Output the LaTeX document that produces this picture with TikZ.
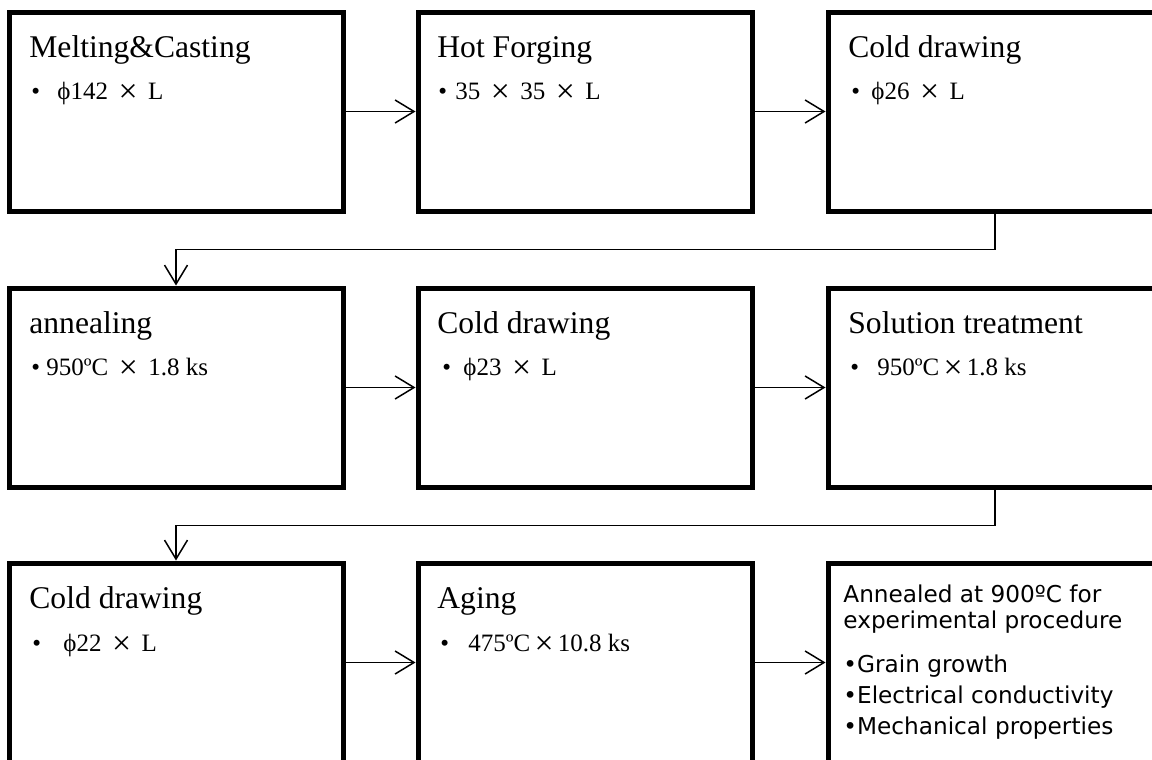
\documentclass[tikz,border=0pt]{standalone}
\usepackage{fontspec}
\setmainfont{Liberation Serif}
\newfontfamily\notefont{DejaVu Sans}
\usetikzlibrary{arrows.meta}
\newcommand{\bytimes}{\makebox[1.1em]{\raisebox{-0.15em}{\scalebox{1.35}{×}}}}

\begin{document}
\begin{tikzpicture}[x=0.5pt, y=-0.5pt,
		stepbox/.style={draw, line width=2.5pt, minimum width=167pt, minimum height=99.5pt, inner sep=0pt},
		headtext/.style={anchor=base west, inner sep=0pt, font=\fontsize{15.8}{18}\selectfont},
		subtext/.style={anchor=base west, inner sep=0pt, font=\fontsize{12.5}{14}\selectfont},
		notetext/.style={anchor=base west, inner sep=0pt, font=\notefont\fontsize{11.6}{14}\selectfont},
		flow/.style={line width=0.75pt, -{Straight Barb[length=9.5pt, width=11.5pt]}}]
			%%%%% START %%%%%
			
			\useasboundingbox (0, 0) rectangle (1152, 760);
			\fill[white] (0, 0) rectangle (1152, 760);
			
			% first row
			\node[stepbox] (melt) at (176, 111.5) {};
			\node[stepbox] (forge) at (585, 111.5) {};
			\node[stepbox] (draw1) at (995, 111.5) {};
			
			\node[headtext] (melthead) at (29, 57) {Melting\&Casting};
			\node[subtext] (meltsub) at (31, 99) {\makebox[13pt][l]{•}ϕ142 \bytimes{} L};
			\node[headtext] (forgehead) at (437, 57) {Hot Forging};
			\node[subtext] (forgesub) at (438, 99) {\makebox[8.5pt][l]{•}35 \bytimes{} 35 \bytimes{} L};
			\node[headtext] (draw1head) at (848, 57) {Cold drawing};
			\node[subtext] (draw1sub) at (851, 99) {\makebox[10pt][l]{•}ϕ26 \bytimes{} L};
			
			% second row
			\node[stepbox] (anneal) at (176, 387.5) {};
			\node[stepbox] (draw2) at (585, 387.5) {};
			\node[stepbox] (solution) at (995, 387.5) {};
			
			\node[headtext] (annealhead) at (29, 333) {annealing};
			\node[subtext] (annealsub) at (31, 375) {\makebox[7.5pt][l]{•}950ºC \bytimes{} 1.8 ks};
			\node[headtext] (draw2head) at (437, 333) {Cold drawing};
			\node[subtext] (draw2sub) at (442, 375) {\makebox[10.5pt][l]{•}ϕ23 \bytimes{} L};
			\node[headtext] (solutionhead) at (848, 333) {Solution treatment};
			\node[subtext] (solutionsub) at (850, 375) {\makebox[13.5pt][l]{•}950ºC\bytimes{}1.8 ks};
			
			% third row
			\node[stepbox] (draw3) at (176, 662.5) {};
			\node[stepbox] (aging) at (585, 662.5) {};
			\node[stepbox] (final) at (995, 662.5) {};
			
			\node[headtext] (draw3head) at (29, 608) {Cold drawing};
			\node[subtext] (draw3sub) at (32, 651) {\makebox[15.5pt][l]{•}ϕ22 \bytimes{} L};
			\node[headtext] (aginghead) at (437, 608) {Aging};
			\node[subtext] (agingsub) at (440, 651) {\makebox[14pt][l]{•}475ºC\bytimes{}10.8 ks};
			
			\node[notetext] (note1) at (843, 602) {Annealed at 900ºC for};
			\node[notetext] (note2) at (843, 628) {experimental procedure};
			\node[notetext] (note3) at (843, 672) {•Grain growth};
			\node[notetext] (note4) at (843, 703) {•Electrical conductivity};
			\node[notetext] (note5) at (843, 734) {•Mechanical properties};
			
			% connectors
			\draw[flow] (melt.east) -- (forge.west);
			\draw[flow] (forge.east) -- (draw1.west);
			\draw[flow] (draw1.south) -- ++(0, 36) -| (anneal.north);
			\draw[flow] (anneal.east) -- (draw2.west);
			\draw[flow] (draw2.east) -- (solution.west);
			\draw[flow] (solution.south) -- ++(0, 36) -| (draw3.north);
			\draw[flow] (draw3.east) -- (aging.west);
			\draw[flow] (aging.east) -- (final.west);
			
			%%%%% END %%%%%
\end{tikzpicture}
\end{document}
